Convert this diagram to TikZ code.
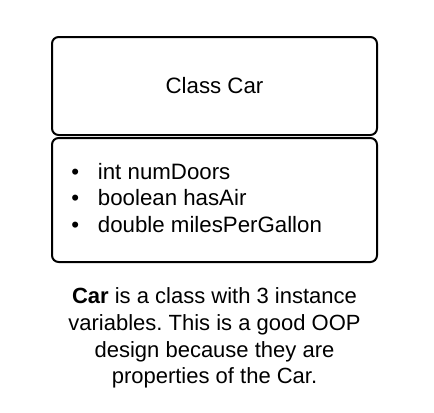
\documentclass[tikz,border=0pt]{standalone}
\usepackage{fontspec}
\setmainfont{Liberation Sans}
\frenchspacing
\begin{document}
\begin{tikzpicture}[x=0.75pt,y=-0.75pt,
  classbox/.style={draw=black,line width=1.5pt,rounded corners=5pt},
  boxtext/.style={font=\fontsize{16.7}{19.7}\selectfont,inner sep=0pt},
  captext/.style={font=\fontsize{16.5}{20}\selectfont,align=center,inner sep=0pt}]
\useasboundingbox (0,0) rectangle (434,412);
\draw[classbox] (52,37) rectangle (377,135);
\draw[classbox] (52,138) rectangle (377,262);
\node[boxtext] (title) at (214.5,86) {Class Car};
\node[boxtext,align=left,anchor=west] (attrs) at (71,198) {%
\makebox[20pt][l]{\textbullet}int numDoors\\
\makebox[20pt][l]{\textbullet}boolean hasAir\\
\makebox[20pt][l]{\textbullet}double milesPerGallon};
\node[captext] (caption) at (214.5,338) {\textbf{Car} is a class with 3 instance\\variables. This is a good OOP\\design because they are\\properties of the Car.};
\end{tikzpicture}
\end{document}
